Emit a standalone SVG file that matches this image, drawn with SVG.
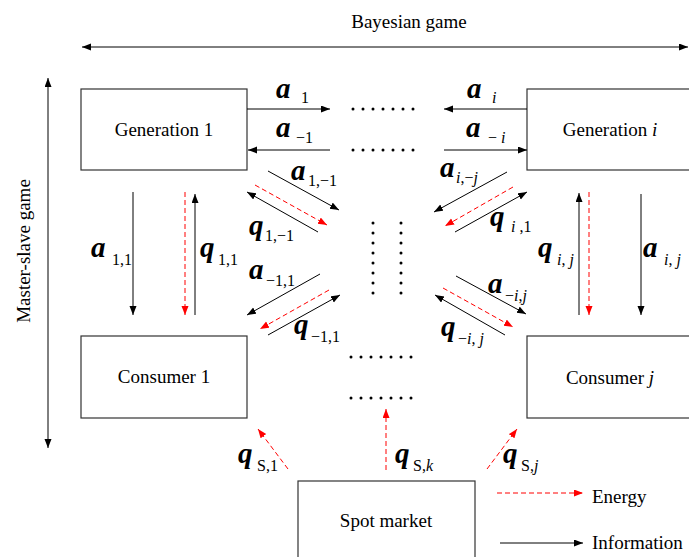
<svg xmlns="http://www.w3.org/2000/svg" width="689" height="557" viewBox="0 0 689 557">
<style>
text{font-family:"Liberation Serif","Times New Roman",serif;fill:#000}
.lbl{font-size:19px}
.m{font-size:29px;font-weight:bold;font-style:italic}
.s{font-size:16px;font-weight:normal;font-style:normal}
.it{font-style:italic}
.box{fill:#fff;stroke:#333;stroke-width:1.2}
.inf{stroke:#000;stroke-width:1;fill:none;marker-end:url(#ab)}
.en{stroke:#f00;stroke-width:1;fill:none;stroke-dasharray:5,3;marker-end:url(#ar)}
.dot{fill:#000}
</style>
<defs>
<marker id="ab" markerUnits="userSpaceOnUse" markerWidth="10" markerHeight="8" refX="9" refY="3.5" orient="auto-start-reverse"><path d="M0,0 L9,3.5 L0,7 z" fill="#000"/></marker>
<marker id="ar" markerUnits="userSpaceOnUse" markerWidth="10" markerHeight="8" refX="9" refY="3.5" orient="auto"><path d="M0,0 L9,3.5 L0,7 z" fill="#f00"/></marker>
</defs>

<text class="lbl" x="409" y="28" text-anchor="middle">Bayesian game</text>
<text class="lbl" transform="translate(30,251) rotate(-90)" text-anchor="middle">Master-slave game</text>

<g id="gen1"><rect class="box" x="81" y="89" width="166" height="81"/><text class="lbl" x="164" y="136" text-anchor="middle">Generation 1</text></g>
<g id="cons1"><rect class="box" x="81" y="336" width="166" height="82"/><text class="lbl" x="164" y="383" text-anchor="middle">Consumer 1</text></g>
<g id="geni"><rect class="box" x="527" y="89" width="180" height="81"/><text class="lbl" x="610" y="136" text-anchor="middle">Generation <tspan class="it">i</tspan></text></g>
<g id="consj"><rect class="box" x="527" y="336" width="180" height="82"/><text class="lbl" x="610" y="384" text-anchor="middle">Consumer <tspan class="it">j</tspan></text></g>
<g id="spot"><rect class="box" x="298" y="481" width="177" height="90"/><text class="lbl" x="386" y="527" text-anchor="middle">Spot market</text></g>

<g id="connectors">
<line x1="82" y1="47" x2="688" y2="47" stroke="#000" stroke-width="1" marker-start="url(#ab)" marker-end="url(#ab)"/>
<line x1="48" y1="78" x2="48" y2="448" stroke="#000" stroke-width="1" marker-start="url(#ab)" marker-end="url(#ab)"/>
<line class="inf" x1="247" y1="109" x2="330" y2="109"/>
<line class="inf" x1="527" y1="109" x2="444" y2="109"/>
<line class="inf" x1="330" y1="150" x2="248" y2="150"/>
<line class="inf" x1="444" y1="150" x2="527" y2="150"/>
<line class="inf" x1="268" y1="171" x2="339" y2="210"/>
<line class="en" x1="255" y1="185" x2="327" y2="225"/>
<line class="inf" x1="318" y1="232" x2="247" y2="192"/>
<line class="inf" x1="320" y1="274" x2="247" y2="315"/>
<line class="en" x1="329" y1="290" x2="260" y2="329"/>
<line class="inf" x1="268" y1="335" x2="340" y2="295"/>
<line class="inf" x1="507" y1="172" x2="434" y2="212"/>
<line class="en" x1="513" y1="187" x2="445" y2="226"/>
<line class="inf" x1="455" y1="232" x2="527" y2="192"/>
<line class="inf" x1="456" y1="276" x2="526" y2="314"/>
<line class="en" x1="443" y1="288" x2="513" y2="327"/>
<line class="inf" x1="505" y1="335" x2="435" y2="295"/>
<line class="inf" x1="133" y1="192" x2="133" y2="315"/>
<line class="en" x1="185" y1="192" x2="185" y2="315"/>
<line class="inf" x1="195" y1="315" x2="195" y2="194"/>
<line class="inf" x1="579" y1="315" x2="579" y2="193"/>
<line class="en" x1="589" y1="192" x2="589" y2="315"/>
<line class="inf" x1="641" y1="194" x2="641" y2="315"/>
<line class="en" x1="288" y1="469" x2="258" y2="429"/>
<line class="en" x1="386" y1="470" x2="386" y2="409"/>
<line class="en" x1="487" y1="469" x2="517" y2="429"/>
<line class="en" x1="497" y1="493" x2="583" y2="493"/>
<line class="inf" x1="500" y1="543" x2="583" y2="543"/>
</g>

<g id="dots">
<g class="dot">
<circle cx="353" cy="109" r="1.5"/><circle cx="363" cy="109" r="1.5"/><circle cx="373" cy="109" r="1.5"/><circle cx="383" cy="109" r="1.5"/><circle cx="393" cy="109" r="1.5"/><circle cx="403" cy="109" r="1.5"/><circle cx="413" cy="109" r="1.5"/>
<circle cx="353" cy="150" r="1.5"/><circle cx="363" cy="150" r="1.5"/><circle cx="373" cy="150" r="1.5"/><circle cx="383" cy="150" r="1.5"/><circle cx="393" cy="150" r="1.5"/><circle cx="403" cy="150" r="1.5"/><circle cx="413" cy="150" r="1.5"/>
<circle cx="351" cy="357" r="1.5"/><circle cx="361" cy="357" r="1.5"/><circle cx="371" cy="357" r="1.5"/><circle cx="381" cy="357" r="1.5"/><circle cx="391" cy="357" r="1.5"/><circle cx="401" cy="357" r="1.5"/><circle cx="411" cy="357" r="1.5"/>
<circle cx="351" cy="398" r="1.5"/><circle cx="361" cy="398" r="1.5"/><circle cx="371" cy="398" r="1.5"/><circle cx="381" cy="398" r="1.5"/><circle cx="391" cy="398" r="1.5"/><circle cx="401" cy="398" r="1.5"/><circle cx="411" cy="398" r="1.5"/>
<circle cx="373" cy="223" r="1.5"/><circle cx="373" cy="233" r="1.5"/><circle cx="373" cy="243" r="1.5"/><circle cx="373" cy="253" r="1.5"/><circle cx="373" cy="263" r="1.5"/><circle cx="373" cy="273" r="1.5"/><circle cx="373" cy="283" r="1.5"/><circle cx="373" cy="293" r="1.5"/>
<circle cx="401" cy="223" r="1.5"/><circle cx="401" cy="233" r="1.5"/><circle cx="401" cy="243" r="1.5"/><circle cx="401" cy="253" r="1.5"/><circle cx="401" cy="263" r="1.5"/><circle cx="401" cy="273" r="1.5"/><circle cx="401" cy="283" r="1.5"/><circle cx="401" cy="293" r="1.5"/>
</g>
</g>

<g id="labels">
<text class="m" x="276" y="98">a<tspan class="s" x="301" y="103">1</tspan></text>
<text class="m" x="467" y="98">a<tspan class="s it" x="492" y="103">i</tspan></text>
<text class="m" x="276" y="137">a<tspan class="s" x="296" y="143">−1</tspan></text>
<text class="m" x="466" y="137">a<tspan class="s" x="488" y="143">− <tspan class="it">i</tspan></tspan></text>
<text class="m" x="291" y="180">a<tspan class="s" x="308" y="186">1,−1</tspan></text>
<text class="m" x="249" y="235">q<tspan class="s" x="265" y="241">1,−1</tspan></text>
<text class="m" x="249" y="279">a<tspan class="s" x="266" y="286">−1,1</tspan></text>
<text class="m" x="294" y="334">q<tspan class="s" x="311" y="342">−1,1</tspan></text>
<text class="m" x="440" y="177">a<tspan class="s" x="456" y="183"><tspan class="it">i</tspan>,−<tspan class="it">j</tspan></tspan></text>
<text class="m" x="490" y="226">q<tspan class="s" x="511" y="232"><tspan class="it">i</tspan> ,1</tspan></text>
<text class="m" x="488" y="293">a<tspan class="s" x="505" y="301">−<tspan class="it">i</tspan>,<tspan class="it">j</tspan></tspan></text>
<text class="m" x="441" y="336">q<tspan class="s" x="458" y="344">−<tspan class="it">i</tspan>, <tspan class="it">j</tspan></tspan></text>
<text class="m" x="91" y="257">a<tspan class="s" x="112" y="265">1,1</tspan></text>
<text class="m" x="200" y="257">q<tspan class="s" x="218" y="265">1,1</tspan></text>
<text class="m" x="538" y="257">q<tspan class="s" x="557" y="265"><tspan class="it">i</tspan>, <tspan class="it">j</tspan></tspan></text>
<text class="m" x="643" y="257">a<tspan class="s" x="664" y="265"><tspan class="it">i</tspan>, <tspan class="it">j</tspan></tspan></text>
<text class="m" x="238" y="463">q<tspan class="s" x="257" y="471">S,1</tspan></text>
<text class="m" x="395" y="463">q<tspan class="s" x="413" y="471">S,<tspan class="it">k</tspan></tspan></text>
<text class="m" x="503" y="463">q<tspan class="s" x="521" y="471">S,<tspan class="it">j</tspan></tspan></text>
<text class="lbl" x="592" y="503">Energy</text>
<text class="lbl" x="592" y="549">Information</text>
</g>
</svg>
